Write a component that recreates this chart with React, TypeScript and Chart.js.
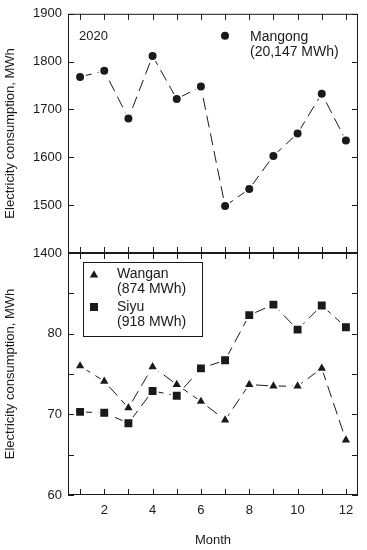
import React, { useEffect, useRef } from 'react';
import { Chart, registerables } from 'chart.js';

Chart.register(...registerables);

const months = [1, 2, 3, 4, 5, 6, 7, 8, 9, 10, 11, 12];
const mangong = [1768, 1781, 1681, 1812, 1722, 1748, 1498, 1534, 1603, 1650, 1733, 1635];
const wangan = [76.0, 74.1, 70.8, 75.9, 73.7, 71.6, 69.3, 73.7, 73.5, 73.5, 75.7, 66.8];
const siyu = [70.3, 70.2, 68.9, 72.9, 72.3, 75.7, 76.7, 82.3, 83.6, 80.5, 83.5, 80.8];
const xTickLabels = [2, 4, 6, 8, 10, 12];
const topYTicks = [1400, 1500, 1600, 1700, 1800, 1900];
const bottomYTicks = [60, 70, 80];
const bottomYMinor = [60, 65, 70, 75, 80, 85, 90];

const FONT = "'Liberation Sans', Arial, Helvetica, sans-serif";
const INK = '#1a1a1a';
const W = 367;
const H = 550;

function framePlugin(id: string, yMarks: number[]) {
  return {
    id,
    afterDatasetsDraw(chart: any) {
      const { ctx, chartArea: a, scales } = chart;
      const xs = scales.x;
      const ys = scales.y;
      const tl = 6;
      ctx.save();
      ctx.setLineDash([]);
      ctx.strokeStyle = INK;
      ctx.lineWidth = 1;
      ctx.strokeRect(a.left + 0.5, a.top + 0.5, a.right - a.left - 1, a.bottom - a.top - 1);
      ctx.beginPath();
      months.forEach((m) => {
        const px = Math.round(xs.getPixelForValue(m)) + 0.5;
        ctx.moveTo(px, a.top);
        ctx.lineTo(px, a.top + tl);
        ctx.moveTo(px, a.bottom);
        ctx.lineTo(px, a.bottom - tl);
      });
      yMarks.forEach((v) => {
        const py = Math.round(ys.getPixelForValue(v)) + 0.5;
        ctx.moveTo(a.left, py);
        ctx.lineTo(a.left + tl, py);
        ctx.moveTo(a.right, py);
        ctx.lineTo(a.right - tl, py);
      });
      ctx.stroke();
      ctx.restore();
    },
  };
}

function drawMarker(ctx: CanvasRenderingContext2D, style: string, x: number, y: number) {
  ctx.beginPath();
  if (style === 'circle') {
    ctx.arc(x, y, 4, 0, Math.PI * 2);
  } else if (style === 'triangle') {
    const r = 4.8;
    ctx.moveTo(x, y - r);
    ctx.lineTo(x + r * 0.866, y + r * 0.5);
    ctx.lineTo(x - r * 0.866, y + r * 0.5);
    ctx.closePath();
  } else {
    ctx.rect(x - 4, y - 4, 8, 8);
  }
  ctx.fillStyle = INK;
  ctx.fill();
}

const topLegend = {
  id: 'topLegend',
  afterDraw(chart: any) {
    const { ctx, chartArea: a } = chart;
    ctx.save();
    ctx.font = `13px ${FONT}`;
    ctx.fillStyle = INK;
    ctx.textBaseline = 'middle';
    ctx.textAlign = 'left';
    ctx.fillText('2020', a.left + 11, a.top + 23);
    drawMarker(ctx, 'circle', a.left + 157, a.top + 22);
    ctx.font = `14px ${FONT}`;
    ctx.fillStyle = INK;
    ctx.fillText('Mangong', a.left + 182, a.top + 23);
    ctx.fillText('(20,147 MWh)', a.left + 182, a.top + 38);
    ctx.restore();
  },
};

const bottomLegend = {
  id: 'bottomLegend',
  afterDraw(chart: any) {
    const { ctx, chartArea: a } = chart;
    ctx.save();
    ctx.strokeStyle = INK;
    ctx.lineWidth = 1;
    ctx.strokeRect(a.left + 15.5, a.top + 9.5, 119, 74);
    drawMarker(ctx, 'triangle', a.left + 26, a.top + 22);
    drawMarker(ctx, 'rect', a.left + 26, a.top + 54);
    ctx.font = `14px ${FONT}`;
    ctx.fillStyle = INK;
    ctx.textBaseline = 'middle';
    ctx.textAlign = 'left';
    ctx.fillText('Wangan', a.left + 49, a.top + 21);
    ctx.fillText('(874 MWh)', a.left + 49, a.top + 36);
    ctx.fillText('Siyu', a.left + 49, a.top + 54);
    ctx.fillText('(918 MWh)', a.left + 49, a.top + 69);
    ctx.restore();
  },
};

function lineDataset(label: string, values: number[], style: string, radius: number) {
  return {
    label,
    data: months.map((m, i) => ({ x: m, y: values[i] })),
    borderColor: INK,
    borderWidth: 1,
    borderDash: [12, 6],
    pointStyle: style,
    pointRadius: radius,
    pointBackgroundColor: INK,
    pointBorderColor: '#ffffff',
    pointBorderWidth: 2,
    tension: 0,
    fill: false,
  };
}

const yTitle = {
  display: true,
  text: 'Electricity consumption, MWh',
  color: INK,
  font: { family: FONT, size: 13 },
  padding: { top: 3, bottom: 0 },
};

const plainLabel = (v: any) => String(v);

export default function App() {
  const topRef = useRef<HTMLCanvasElement | null>(null);
  const botRef = useRef<HTMLCanvasElement | null>(null);

  useEffect(() => {
    Chart.defaults.font.family = FONT;
    const topChart = new Chart(topRef.current as HTMLCanvasElement, {
      type: 'line',
      data: { datasets: [lineDataset('Mangong', mangong, 'circle', 5)] as any },
      options: {
        responsive: false,
        animation: false,
        layout: { padding: { top: 10, bottom: H - 253, left: 0, right: 9 } },
        plugins: { legend: { display: false }, tooltip: { enabled: false } },
        scales: {
          x: { type: 'linear', min: 0.5, max: 12.5, display: false },
          y: {
            type: 'linear',
            min: 1400,
            max: 1900,
            afterBuildTicks: (s: any) => {
              s.ticks = topYTicks.map((v) => ({ value: v }));
            },
            afterFit: (s: any) => {
              s.width = 68;
            },
            grid: { display: false, drawTicks: false },
            border: { display: false },
            ticks: { color: INK, font: { family: FONT, size: 13 }, padding: 6, callback: plainLabel },
            title: yTitle,
          },
        },
      } as any,
      plugins: [framePlugin('topFrame', topYTicks), topLegend],
    });

    const botChart = new Chart(botRef.current as HTMLCanvasElement, {
      type: 'line',
      data: {
        datasets: [
          lineDataset('Wangan', wangan, 'triangle', 6.8),
          lineDataset('Siyu', siyu, 'rect', 7),
        ] as any,
      },
      options: {
        responsive: false,
        animation: false,
        layout: { padding: { top: 253, bottom: 0, left: 0, right: 9 } },
        plugins: { legend: { display: false }, tooltip: { enabled: false } },
        scales: {
          x: {
            type: 'linear',
            min: 0.5,
            max: 12.5,
            afterBuildTicks: (s: any) => {
              s.ticks = xTickLabels.map((v) => ({ value: v }));
            },
            afterFit: (s: any) => {
              s.height = 55;
            },
            grid: { display: false, drawTicks: false },
            border: { display: false },
            ticks: { color: INK, font: { family: FONT, size: 13 }, padding: 8, maxRotation: 0, callback: plainLabel },
            title: {
              display: true,
              text: 'Month',
              color: INK,
              font: { family: FONT, size: 13 },
              padding: { top: 0, bottom: 2 },
            },
          },
          y: {
            type: 'linear',
            min: 60,
            max: 90,
            afterBuildTicks: (s: any) => {
              s.ticks = bottomYTicks.map((v) => ({ value: v }));
            },
            afterFit: (s: any) => {
              s.width = 68;
            },
            grid: { display: false, drawTicks: false },
            border: { display: false },
            ticks: { color: INK, font: { family: FONT, size: 13 }, padding: 6, callback: plainLabel },
            title: yTitle,
          },
        },
      } as any,
      plugins: [framePlugin('botFrame', bottomYMinor), bottomLegend],
    });

    return () => {
      topChart.destroy();
      botChart.destroy();
    };
  }, []);

  const canvasStyle: React.CSSProperties = {
    position: 'absolute',
    left: 0,
    top: 0,
    width: W,
    height: H,
  };

  return (
    <div style={{ position: 'absolute', left: 0, top: 0, width: W, height: H, background: '#fff' }}>
      <canvas ref={topRef} width={W} height={H} style={canvasStyle} />
      <canvas ref={botRef} width={W} height={H} style={canvasStyle} />
    </div>
  );
}
